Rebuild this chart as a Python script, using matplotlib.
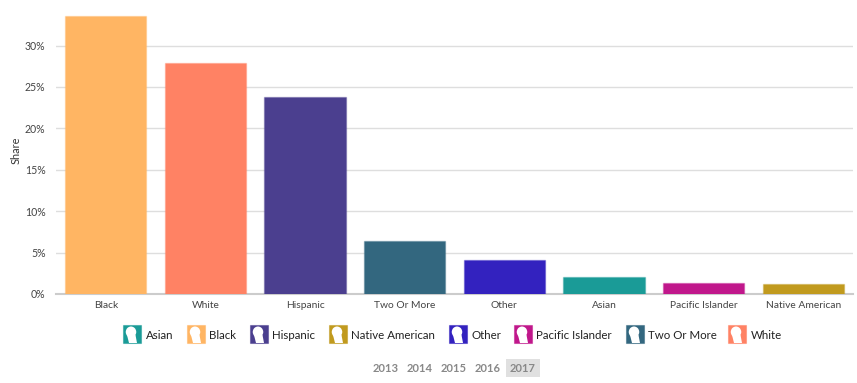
import matplotlib
matplotlib.use("Agg")
import matplotlib.pyplot as plt
from matplotlib.patches import Rectangle, Ellipse, Polygon
from matplotlib.ticker import FuncFormatter

plt.rcParams['font.family'] = ['Lato', 'DejaVu Sans']

categories = ["Black", "White", "Hispanic", "Two Or More", "Other", "Asian", "Pacific Islander", "Native American"]
shares = [33.6, 27.9, 23.8, 6.45, 4.15, 2.1, 1.3, 1.2]
colors = {"Asian": "#1A9B97", "Black": "#FFB563", "Hispanic": "#4B3F8F", "Native American": "#C19A1E",
          "Other": "#3322BF", "Pacific Islander": "#C0178B", "Two Or More": "#33677F", "White": "#FF8264"}
legend_names = ["Asian", "Black", "Hispanic", "Native American", "Other", "Pacific Islander", "Two Or More", "White"]
legend_x = [123, 187, 250, 329, 449, 514, 626, 728]
years = ["2013", "2014", "2015", "2016", "2017"]
year_x = [386, 420, 454, 488, 523]
yticks = [0, 5, 10, 15, 20, 25, 30]

W, H = 857, 383
fig = plt.figure(figsize=(W/100, H/100), dpi=100, facecolor="white")
ax = fig.add_axes([56/W, 1-294/H, (853-56)/W, (294-15.5)/H])
xs = list(range(len(categories)))
ax.bar(xs, shares, width=0.815, color=[colors[c] for c in categories],
       edgecolor=[matplotlib.colors.to_rgba(colors[c], 0.35) for c in categories], linewidth=1, zorder=3)
ax.set_xlim(-0.5, 7.5)
ax.set_ylim(0, 33.63)
ax.set_xticks(xs, categories)
ax.set_yticks(yticks)
ax.yaxis.set_major_formatter(FuncFormatter(lambda v, _: f"{v:.0f}%"))
ax.grid(axis="y", color="#DEDEDE", linewidth=1.0, zorder=0)
for s in ["top", "right", "left"]:
    ax.spines[s].set_visible(False)
ax.spines["bottom"].set_color("#CCCCCC")
ax.spines["bottom"].set_linewidth(1.5)
ax.tick_params(axis="x", length=0, pad=5, labelsize=7.4, labelcolor="#444444")
ax.tick_params(axis="y", length=0, pad=7.5, labelsize=7.6, labelcolor="#444444")
ax.set_ylabel("Share", fontsize=7.8, color="#333333", labelpad=2.5, y=0.515)

# pixel-space overlay for the legend and the year selector
ov = fig.add_axes([0, 0, 1, 1], facecolor="none")
ov.set_xlim(0, W)
ov.set_ylim(H, 0)
ov.axis("off")

for name, x in zip(legend_names, legend_x):
    c = colors[name]
    ov.add_patch(Rectangle((x, 325), 18, 18, facecolor=c, edgecolor=matplotlib.colors.to_rgba(c, 0.5), linewidth=0.8))
    ov.add_patch(Ellipse((x+8, 332), 10.5, 11, color="white", lw=0))
    ov.add_patch(Polygon([(x+4, 335), (x+12.5, 335), (x+14, 343), (x+6, 343)], color="white", lw=0))
    ov.text(x+22.5, 335.5, name, fontsize=8.3, color="#222222", va="center", ha="left")

ov.add_patch(Rectangle((506, 359), 34, 18, facecolor="#E0E0E0", edgecolor="none"))
for y, x in zip(years, year_x):
    ov.text(x, 368, y, fontsize=8, color="#888888", va="center", ha="center", fontweight="bold")

fig.savefig("out.png", dpi=100)
